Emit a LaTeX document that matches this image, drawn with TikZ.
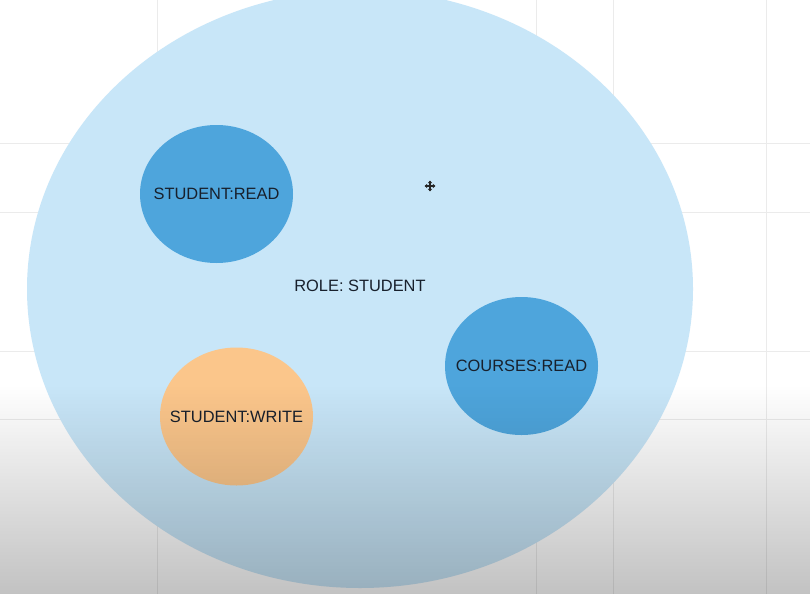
\documentclass[tikz,border=0pt]{standalone}
\usepackage{fontspec}
\setmainfont{Liberation Sans}
\usetikzlibrary{shapes.geometric,fadings,arrows.meta}
\definecolor{roleblue}{HTML}{C8E6F8}
\definecolor{permblue}{HTML}{4EA5DC}
\definecolor{permorange}{HTML}{FBC68B}
\definecolor{txt}{HTML}{18202C}
\definecolor{gridc}{HTML}{EBEBEB}
\tikzfading[name=fadedown, top color=transparent!100, bottom color=transparent!0]
\begin{document}
\begin{tikzpicture}[x=1pt,y=-1pt,
  roleset/.style={ellipse, fill=roleblue, inner sep=0pt, minimum width=666pt, minimum height=598pt},
  perm/.style={ellipse, inner sep=0pt, minimum width=153pt, minimum height=138pt},
  lbl/.style={text=txt, font=\fontsize{16.4}{19}\selectfont, inner sep=0pt}]
\fill[white] (0,0) rectangle (810,594);
\useasboundingbox (0,0) rectangle (810,594);
% faint grid
\foreach \gx in {157,536,613,766} \draw[gridc, line width=0.8pt] (\gx,0) -- (\gx,594);
\foreach \gy in {143,212,351,419} \draw[gridc, line width=0.8pt] (0,\gy) -- (810,\gy);
% role set
\node[roleset] (role) at (360,289) {};
\node[lbl] (rolelbl) at (360,286) {ROLE: STUDENT};
% permissions
\node[perm, fill=permblue] (sread) at (216.5,194) {};
\node[lbl] (sreadlbl) at (sread.center) {STUDENT:READ};
\node[perm, fill=permorange] (swrite) at (236.5,416.5) {};
\node[lbl] (swritelbl) at (swrite.center) {STUDENT:WRITE};
\node[perm, fill=permblue] (cread) at (521.5,366) {};
\node[lbl] (creadlbl) at (cread.center) {COURSES:READ};
% move cursor
\coordinate (cur) at (430,186);
\foreach \dx/\dy in {1/0,-1/0,0/1,0/-1}
  \draw[black!85, line width=1.1pt, -{Triangle[length=2.6pt,width=4pt]}] (cur) -- ++(5.5*\dx,5.5*\dy);
% bottom shadow gradient
\fill[black, fill opacity=0.24, path fading=fadedown] (0,385) rectangle (810,594);
\end{tikzpicture}
\end{document}
